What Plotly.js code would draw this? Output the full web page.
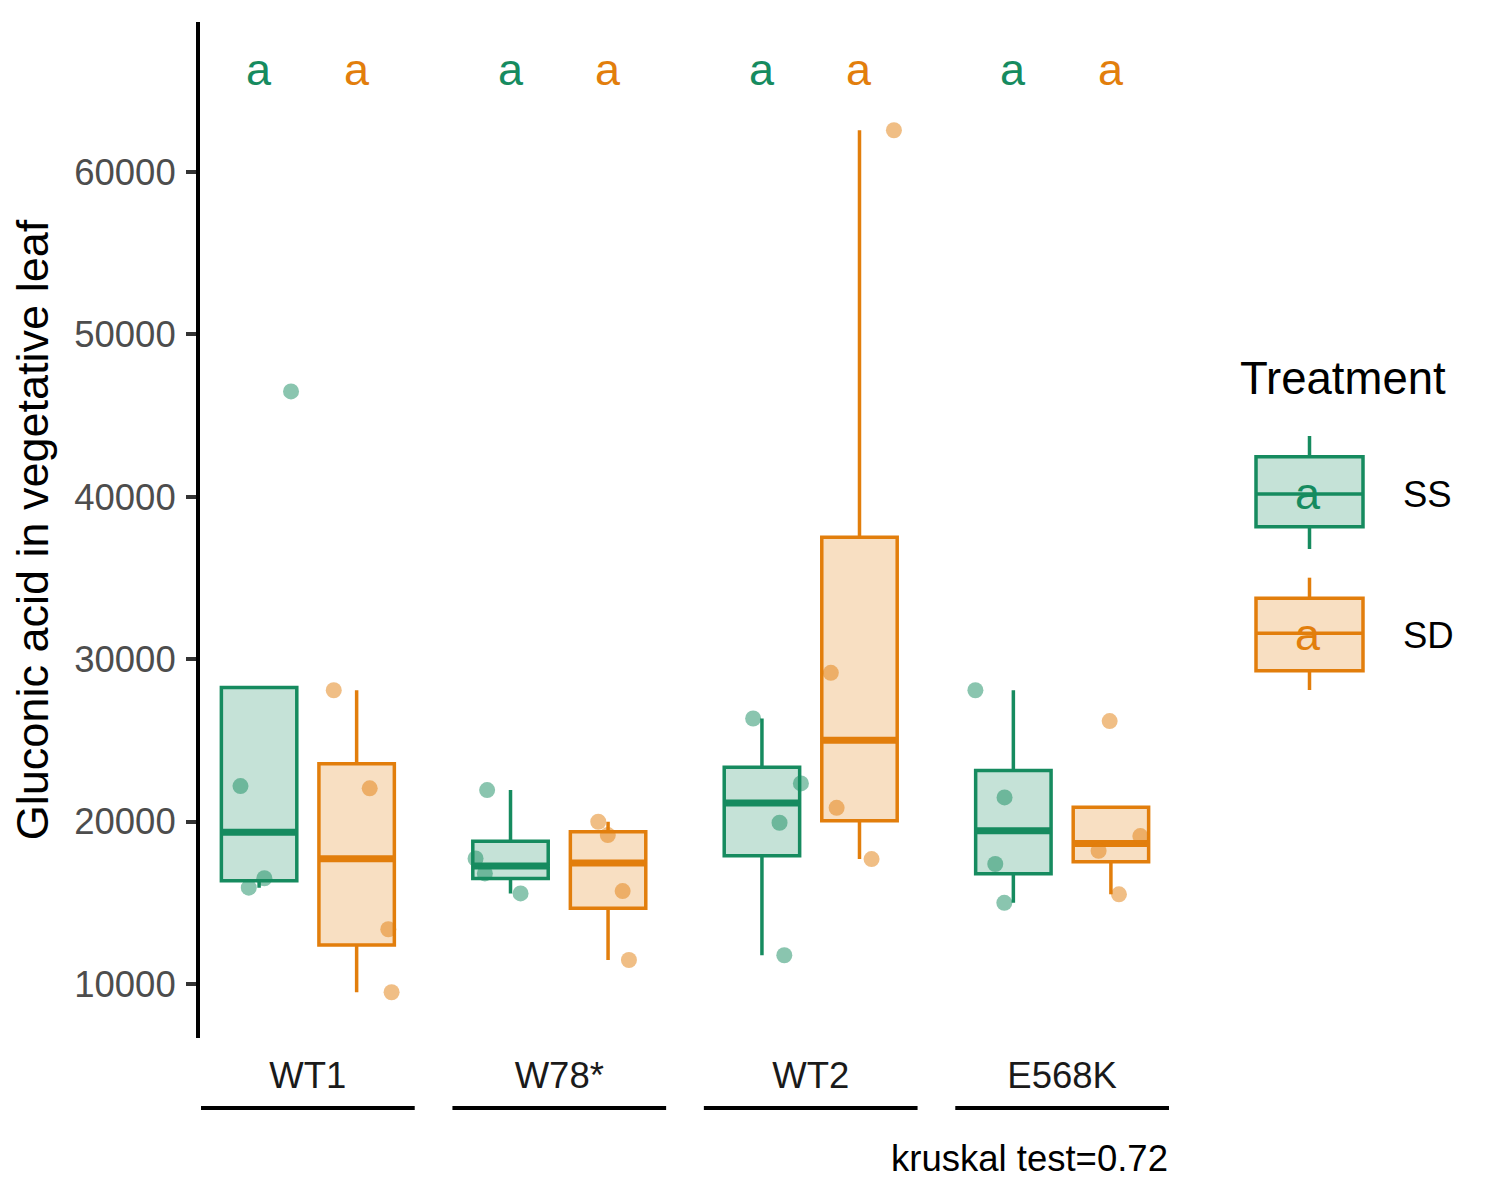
<!DOCTYPE html>
<html>
<head>
<meta charset="utf-8">
<script src="https://cdn.plot.ly/plotly-3.0.1.min.js"></script>
<style>body{margin:0;background:#fff}</style>
</head>
<body>
<div id="chart" style="width:1500px;height:1200px"></div>
<script>
// ---------------- data ----------------
const genotypes = ['WT1', 'W78*', 'WT2', 'E568K'];
const treatments = ['SS', 'SD'];
const ssValues = [
  [22185, 15930, 16510, 46490],
  [21940, 17730, 16810, 15580],
  [26350, 22350, 19930, 11770],
  [28090, 21490, 17390, 15000]
];
const sdValues = [
  [28090, 22050, 13370, 9490],
  [19990, 19170, 15720, 11480],
  [29160, 20850, 17690, 62570],
  [26190, 18200, 19110, 15520]
];
// horizontal jitter of each point (category units)
const ssJitter = [
  [-0.074, -0.041, 0.021, 0.127],
  [-0.093, -0.139, -0.102, 0.040],
  [-0.035, 0.155, 0.070, 0.089],
  [-0.151, -0.035, -0.072, -0.036]
];
const sdJitter = [
  [-0.091, 0.052, 0.126, 0.139],
  [-0.039, -0.001, 0.058, 0.083],
  [-0.114, -0.091, 0.048, 0.137],
  [-0.005, -0.049, 0.117, 0.032]
];
const ssLetters = ['a', 'a', 'a', 'a'];
const sdLetters = ['a', 'a', 'a', 'a'];
const kruskalP = '0.72';
const yTicks = [10000, 20000, 30000, 40000, 50000, 60000];

// ---------------- styling ----------------
const GREEN = 'rgb(22,139,95)';
const ORANGE = 'rgb(226,126,12)';
const FONT = 'Liberation Sans, Arial, Helvetica, sans-serif';
const DODGE = 0.194, BOXW = 0.3, LETTER_Y = 66300;
const W = 1500, H = 1200, ML = 200, MR = 330, MT = 22, MB = 162;
const PW = W - ML - MR, PH = H - MT - MB;
const px = x => (x - ML) / PW;           // pixel -> paper x
const py = y => (H - MB - y) / PH;       // pixel -> paper y

function q7(s, p) {
  const h = (s.length - 1) * p, lo = Math.floor(h), hi = Math.ceil(h);
  return s[lo] + (h - lo) * (s[hi] - s[lo]);
}
function boxStats(vals) {
  const s = [...vals].sort((a, b) => a - b);
  const q1 = q7(s, 0.25), med = q7(s, 0.5), q3 = q7(s, 0.75), iqr = q3 - q1;
  const inside = s.filter(v => v >= q1 - 1.5 * iqr && v <= q3 + 1.5 * iqr);
  return {q1, med, q3, lf: Math.min(inside[0], q1), uf: Math.max(inside[inside.length - 1], q3)};
}
function rgba(c, a) { return c.replace('rgb(', 'rgba(').replace(')', ',' + a + ')'); }

const traces = [];
const groups = [
  {vals: ssValues, jit: ssJitter, off: -DODGE, color: GREEN},
  {vals: sdValues, jit: sdJitter, off: DODGE, color: ORANGE}
];
groups.forEach(g => {
  const st = g.vals.map(boxStats);
  const xs = genotypes.map((_, i) => i + g.off);
  traces.push({
    type: 'box', x: xs,
    q1: st.map(s => s.q1), median: st.map(s => s.med), q3: st.map(s => s.q3),
    lowerfence: st.map(s => s.lf), upperfence: st.map(s => s.uf),
    width: BOXW, whiskerwidth: 0, boxpoints: false,
    fillcolor: rgba(g.color, 0.25), line: {color: g.color, width: 3.5},
    hoverinfo: 'skip', showlegend: false
  });
  // thick median lines
  const mx = [], my = [];
  st.forEach((s, i) => { mx.push(xs[i] - BOXW / 2, xs[i] + BOXW / 2, null); my.push(s.med, s.med, null); });
  traces.push({type: 'scatter', mode: 'lines', x: mx, y: my, line: {color: g.color, width: 7},
    hoverinfo: 'skip', showlegend: false});
});
groups.forEach(g => {
  const x = [], y = [];
  g.vals.forEach((arr, i) => arr.forEach((v, k) => { x.push(i + g.off + g.jit[i][k]); y.push(v); }));
  traces.push({type: 'scatter', mode: 'markers', x, y,
    marker: {size: 16, color: rgba(g.color, 0.5), line: {width: 0}},
    hoverinfo: 'skip', showlegend: false});
});

const annotations = [];
genotypes.forEach((_, i) => {
  annotations.push({x: i - DODGE, y: LETTER_Y, xref: 'x', yref: 'y', text: ssLetters[i], showarrow: false,
    xanchor: 'center', yanchor: 'middle', font: {family: FONT, size: 45, color: GREEN}});
  annotations.push({x: i + DODGE, y: LETTER_Y, xref: 'x', yref: 'y', text: sdLetters[i], showarrow: false,
    xanchor: 'center', yanchor: 'middle', font: {family: FONT, size: 45, color: ORANGE}});
});
annotations.push({x: 1, y: py(1158), xref: 'paper', yref: 'paper', text: 'kruskal test=' + kruskalP,
  showarrow: false, xanchor: 'right', yanchor: 'middle', font: {family: FONT, size: 36.5, color: '#000'}});

// legend (drawn by hand, ggplot style keys)
annotations.push({x: px(1238), y: py(378), xref: 'paper', yref: 'paper', text: 'Treatment', showarrow: false,
  xanchor: 'left', yanchor: 'middle', font: {family: FONT, size: 45.5, color: '#000'}});
const shapes = [];
const keys = [
  {label: treatments[0], color: GREEN, top: 456.7, bot: 526.7, med: 494, wt: 436, wb: 549, lab: 495, a: 493.5},
  {label: treatments[1], color: ORANGE, top: 598.3, bot: 670.7, med: 633.3, wt: 577.7, wb: 690, lab: 635.5, a: 634}
];
keys.forEach(k => {
  const ref = {xref: 'paper', yref: 'paper'};
  shapes.push(Object.assign({type: 'line', x0: px(1309.5), x1: px(1309.5), y0: py(k.wt), y1: py(k.top),
    line: {color: k.color, width: 3.5}}, ref));
  shapes.push(Object.assign({type: 'line', x0: px(1309.5), x1: px(1309.5), y0: py(k.bot), y1: py(k.wb),
    line: {color: k.color, width: 3.5}}, ref));
  shapes.push(Object.assign({type: 'rect', x0: px(1256), x1: px(1363), y0: py(k.bot), y1: py(k.top),
    fillcolor: rgba(k.color, 0.25), line: {color: k.color, width: 3.5}}, ref));
  shapes.push(Object.assign({type: 'line', x0: px(1256), x1: px(1363), y0: py(k.med), y1: py(k.med),
    line: {color: k.color, width: 3.5}}, ref));
  annotations.push({x: px(1308), y: py(k.a), xref: 'paper', yref: 'paper', text: 'a', showarrow: false,
    xanchor: 'center', yanchor: 'middle', font: {family: FONT, size: 45, color: k.color}});
  annotations.push({x: px(1401), y: py(k.lab), xref: 'paper', yref: 'paper', text: k.label, showarrow: false,
    xanchor: 'left', yanchor: 'middle', font: {family: FONT, size: 36.5, color: '#000'}});
});
// underline bars beneath category labels
genotypes.forEach((_, i) => {
  shapes.push({type: 'line', xref: 'x', yref: 'paper', x0: i - 0.425, x1: i + 0.425, y0: py(1108), y1: py(1108),
    line: {color: '#000', width: 4}});
});

const layout = {
  width: W, height: H,
  margin: {l: ML, r: MR, t: MT, b: MB, pad: 0},
  paper_bgcolor: '#fff', plot_bgcolor: '#fff',
  font: {family: FONT},
  showlegend: false,
  xaxis: {
    range: [-0.429, 3.429], tickvals: genotypes.map((_, i) => i), ticktext: genotypes,
    showgrid: false, zeroline: false, showline: false, ticks: '', ticklen: 0,
    tickfont: {family: FONT, size: 36.5, color: '#1A1A1A'}, ticklabelstandoff: 12, fixedrange: true
  },
  yaxis: {
    range: [6675, 69236], tickvals: yTicks, tickformat: 'd',
    showgrid: false, zeroline: false, showline: true, linecolor: '#000', linewidth: 4,
    ticks: 'outside', ticklen: 10, tickwidth: 4, tickcolor: '#333333', ticklabelstandoff: 3,
    tickfont: {family: FONT, size: 36.5, color: '#4D4D4D'},
    title: {text: 'Gluconic acid in vegetative leaf', font: {family: FONT, size: 45, color: '#000'}, standoff: 12},
    fixedrange: true
  },
  annotations, shapes
};
Plotly.newPlot('chart', traces, layout, {staticPlot: true, displayModeBar: false});
</script>
</body>
</html>
